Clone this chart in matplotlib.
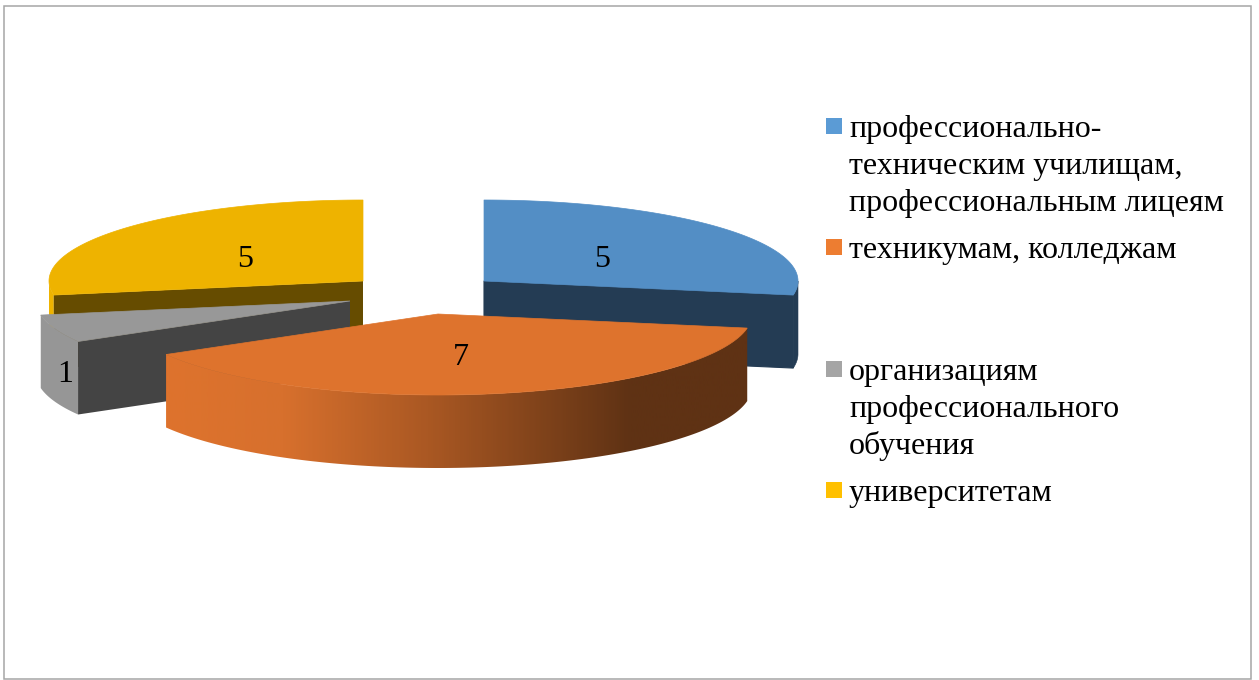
import numpy as np
import matplotlib
matplotlib.use("Agg")
import matplotlib.pyplot as plt
from matplotlib.colors import LinearSegmentedColormap
from matplotlib.patches import Polygon, Rectangle

labels = [
    "профессионально-\nтехническим училищам,\nпрофессиональным лицеям",
    "техникумам, колледжам",
    "организациям\nпрофессионального\nобучения",
    "университетам",
]
values = [5, 7, 1, 5]
legend_colors = ["#5b9bd5", "#ed7d31", "#a5a5a5", "#ffc000"]
top_colors = ["#538ec5", "#de732d", "#989898", "#eeb300"]
rim_colors = ["#243c54", None, "#969696", "#eeb300"]
cut_colors = ["#243c54", None, "#444444", "#664c00"]

W, H = 1259, 680
# the pie as it is projected on the picture, in pixels
RX, RY, DEPTH = 314, 81, 73
apexes = [(484, 281), (438, 314), (350, 301), (363, 281)]
label_pos = [(602, 256), (461, 354), (65, 371), (245, 256)]
legend_y = [126, 247, 369, 490]

plt.rcParams["font.family"] = ["Liberation Serif", "DejaVu Serif"]
fig = plt.figure(figsize=(W / 100, H / 100), dpi=100)
ax = fig.add_axes([0, 0, 1, 1])
ax.set_xlim(0, W)
ax.set_ylim(H, 0)
ax.axis("off")

fig.add_artist(Rectangle((4 / W, 1 / H), (W - 12) / W, (H - 7) / H,
                         transform=fig.transFigure, fill=False,
                         edgecolor="#a6a6a6", linewidth=1.1))

# clockwise from 12 o'clock, like the slices of the chart
edges = np.cumsum([0] + values) / sum(values) * 2 * np.pi


def rim(apex, a, b, n=120):
    t = np.linspace(a, b, n)
    return np.column_stack([apex[0] + RX * np.sin(t), apex[1] - RY * np.cos(t)])


def wall(pts):
    low = pts[::-1] + [0, DEPTH]
    return np.vstack([pts, low])


def cut_face(apex, angle):
    p = rim(apex, angle, angle, 1)[0]
    a = np.array(apex, float)
    return np.array([a, p, p + [0, DEPTH], a + [0, DEPTH]])


# back to front
for i in [3, 0, 2, 1]:
    a, b = edges[i], edges[i + 1]
    apex = apexes[i]
    if i == 0:
        ax.add_patch(Polygon(wall(rim(apex, np.pi / 2, b)), fc=rim_colors[i],
                             ec=rim_colors[i], lw=0.4))
        ax.add_patch(Polygon(cut_face(apex, b), fc=cut_colors[i], ec=cut_colors[i], lw=0.8))
    elif i == 1:
        front = rim(apex, a, b)
        shape = Polygon(wall(front), transform=ax.transData, fc="none", ec="none")
        ax.add_patch(shape)
        cmap = LinearSegmentedColormap.from_list("side", [
            (0, "#de732d"), (0.2, "#d7702d"), (0.45, "#aa5823"),
            (0.8, "#5f3214"), (1, "#5f3214")])
        x0, x1 = front[:, 0].min(), front[:, 0].max()
        img = ax.imshow(np.linspace(0, 1, 300)[None, :], cmap=cmap, aspect="auto",
                        extent=[x0, x1, H, 0], interpolation="bilinear", zorder=1)
        img.set_clip_path(shape)
        ax.set_xlim(0, W)
        ax.set_ylim(H, 0)
    elif i == 2:
        ax.add_patch(Polygon(wall(rim(apex, a, b)), fc=rim_colors[i], ec="none"))
        ax.add_patch(Polygon(cut_face(apex, a), fc=cut_colors[i], ec="none"))
    else:
        ax.add_patch(Polygon(wall(rim(apex, a, 1.5 * np.pi)), fc=rim_colors[i], ec="none"))
        ax.add_patch(Polygon(cut_face(apex, a), fc=cut_colors[i], ec="none"))
    top = np.vstack([[apex], rim(apex, a, b)])
    ax.add_patch(Polygon(top, fc=top_colors[i], ec=top_colors[i], lw=0.5))

for v, (x, y) in zip(values, label_pos):
    ax.text(x, y, str(v), fontsize=23, ha="center", va="center_baseline", color="black")

for lab, col, y in zip(labels, legend_colors, legend_y):
    ax.add_patch(Rectangle((826, y - 8), 16, 16, fc=col, ec="none"))
    for k, line in enumerate(lab.split("\n")):
        ax.text(849, y + 11 + k * 37, line, fontsize=23, ha="left", va="baseline", color="black")

fig.savefig("out.png", dpi=100, facecolor="white")
